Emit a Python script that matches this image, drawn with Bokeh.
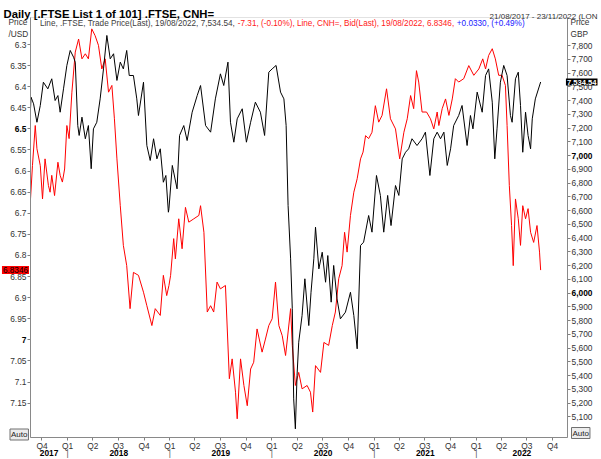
import calendar
from datetime import datetime, timedelta

from bokeh.plotting import figure
from bokeh.models import (Range1d, LinearAxis, DatetimeAxis, FixedTicker,
                          CustomJSTickFormatter, Label, ColumnDataSource, BoxAnnotation)
from bokeh.embed import file_html
from bokeh.resources import INLINE

# ---------------- data ----------------
start_date = datetime(2017, 8, 21)
end_date = datetime(2022, 11, 23)

# FTSE 100 (right axis, GBP): days after start_date and close values
ftse_day = [0, 2, 11, 23, 35, 46, 62, 76, 88, 98,
            106, 118, 130, 142, 154, 160, 169, 174, 184, 196,
            207, 217, 225, 237, 249, 261, 273, 285, 297, 309,
            321, 332, 344, 353, 368, 380, 386, 404, 416, 428,
            440, 452, 464, 475, 484, 493, 495, 507, 524, 533,
            548, 560, 578, 596, 608, 626, 644, 661, 679, 691,
            706, 715, 727, 739, 757, 772, 787, 804, 822, 837,
            852, 864, 878, 894, 906, 914, 921, 930, 936, 941,
            947, 953, 959, 971, 981, 995, 1003, 1013, 1019, 1031,
            1043, 1055, 1063, 1075, 1084, 1096, 1108, 1126, 1144, 1156,
            1168, 1180, 1191, 1209, 1221, 1237, 1251, 1263, 1277, 1289,
            1305, 1317, 1329, 1341, 1352, 1364, 1382, 1400, 1412, 1428,
            1442, 1454, 1466, 1478, 1490, 1502, 1513, 1531, 1543, 1561,
            1573, 1582, 1597, 1615, 1627, 1638, 1651, 1660, 1668, 1680,
            1692, 1704, 1716, 1722, 1734, 1744, 1752, 1760, 1770, 1779,
            1788, 1794, 1805, 1824]
ftse_val = [7340, 7424, 7376, 7242, 7364, 7533, 7485, 7558, 7400, 7436,
            7315, 7485, 7655, 7764, 7715, 7679, 7218, 7146, 7279, 7122,
            7218, 6904, 7194, 7242, 7412, 7630, 7873, 7703, 7740, 7546,
            7679, 7630, 7764, 7582, 7582, 7412, 7291, 7533, 7073, 6964,
            7122, 6976, 7049, 6806, 6855, 6588, 6613, 6928, 6758, 7146,
            7218, 7109, 7315, 7436, 7509, 7218, 7170, 7412, 7594, 7509,
            7679, 7242, 7097, 7267, 7340, 7097, 7242, 7388, 7315, 7146,
            7606, 7630, 7655, 7461, 7412, 7218, 6637, 6249, 5886, 5231,
            5013, 5401, 5643, 5837, 6104, 5764, 6006, 6249, 6479, 6176,
            6297, 6079, 6273, 5934, 6201, 5958, 5813, 5861, 6006, 5837,
            5595, 6346, 6370, 6564, 6443, 6855, 6710, 6443, 6710, 6491,
            6782, 6710, 6976, 7024, 7049, 7122, 7073, 7122, 7170, 6855,
            7122, 7170, 7122, 7170, 6928, 7049, 7218, 7291, 7364, 7073,
            7291, 7194, 7461, 7315, 7582, 7630, 7388, 6976, 7194, 7533,
            7655, 7582, 7291, 7242, 7558, 7606, 7364, 7024, 7315, 7146,
            7049, 7267, 7412, 7534.54]

# USD/CNH (left axis, inverted): days after start_date and bid values
cnh_day = [0, 7, 17, 23, 35, 43, 52, 64, 70, 76,
           86, 98, 106, 114, 122, 130, 138, 148, 160, 172,
           184, 196, 207, 219, 231, 243, 255, 267, 279, 291,
           300, 309, 321, 332, 344, 356, 368, 386, 404, 416,
           434, 446, 464, 475, 487, 495, 501, 512, 518, 530,
           542, 554, 566, 584, 602, 608, 620, 632, 644, 655,
           667, 679, 697, 711, 721, 733, 739, 751, 763, 775,
           787, 798, 810, 828, 840, 852, 864, 876, 888, 900,
           912, 930, 936, 947, 959, 971, 989, 1001, 1009, 1019,
           1037, 1049, 1066, 1079, 1090, 1102, 1114, 1123, 1132, 1144,
           1156, 1168, 1180, 1189, 1198, 1209, 1221, 1233, 1245, 1257,
           1273, 1287, 1305, 1320, 1335, 1347, 1359, 1370, 1380, 1388,
           1400, 1416, 1430, 1442, 1454, 1460, 1472, 1484, 1496, 1508,
           1519, 1531, 1549, 1567, 1585, 1603, 1617, 1627, 1638, 1651,
           1662, 1674, 1686, 1698, 1704, 1712, 1720, 1726, 1734, 1744,
           1752, 1760, 1770, 1779, 1788, 1799, 1811, 1820, 1824]
cnh_val = [6.666, 6.587, 6.492, 6.547, 6.587, 6.666, 6.571, 6.634, 6.650, 6.610,
           6.658, 6.579, 6.610, 6.626, 6.595, 6.492, 6.523, 6.413, 6.318, 6.287,
           6.334, 6.322, 6.334, 6.263, 6.279, 6.302, 6.358, 6.334, 6.413, 6.397,
           6.476, 6.571, 6.682, 6.776, 6.824, 6.926, 6.840, 6.847, 6.887, 6.919,
           6.966, 6.926, 6.942, 6.847, 6.895, 6.871, 6.847, 6.760, 6.808, 6.713,
           6.784, 6.686, 6.721, 6.713, 6.705, 6.682, 6.745, 6.934, 6.919, 6.934,
           6.863, 6.879, 6.871, 7.092, 7.045, 7.124, 7.187, 7.045, 7.108, 7.156,
           7.069, 7.053, 6.974, 7.029, 6.998, 6.966, 6.950, 6.863, 6.966, 6.990,
           7.037, 6.926, 7.013, 7.108, 7.077, 7.116, 7.108, 7.124, 7.171, 7.061,
           7.077, 7.006, 7.013, 6.966, 6.934, 6.855, 6.824, 6.745, 6.792, 6.705,
           6.650, 6.618, 6.571, 6.555, 6.516, 6.523, 6.508, 6.445, 6.484, 6.468,
           6.405, 6.476, 6.500, 6.571, 6.508, 6.476, 6.421, 6.452, 6.362, 6.389,
           6.460, 6.460, 6.476, 6.500, 6.460, 6.492, 6.452, 6.429, 6.468, 6.429,
           6.381, 6.389, 6.381, 6.350, 6.373, 6.358, 6.334, 6.358, 6.326, 6.310,
           6.334, 6.373, 6.373, 6.397, 6.492, 6.634, 6.729, 6.824, 6.666, 6.713,
           6.776, 6.682, 6.713, 6.689, 6.745, 6.769, 6.729, 6.792, 6.8346]

cnh_ticks = [6.3, 6.35, 6.4, 6.45, 6.5, 6.55, 6.6, 6.65, 6.7, 6.75,
             6.8, 6.85, 6.9, 6.95, 7.0, 7.05, 7.1, 7.15]
cnh_bold = [6.5, 7.0]
ftse_ticks = list(range(5100, 7900, 100))
ftse_bold = [6000, 7000]
year_labels = ["2017", "2018", "2019", "2020", "2021", "2022"]

title_text = "Daily [.FTSE List 1 of 101] .FTSE, CNH="
range_text = "21/08/2017 - 23/11/2022 (LON"
legend_black = "Line, .FTSE, Trade Price(Last), 19/08/2022, 7,534.54, "
legend_red = "-7.31, (-0.10%), Line, CNH=, Bid(Last), 19/08/2022, 6.8346, "
legend_blue = "+0.0330, (+0.49%)"
ftse_last_text = "7,534.54"
cnh_last_text = "6.8346"

# ---------------- page geometry (pixels) ----------------
W, H = 600, 458
FL, FR, FT, FB = 30, 567, 17, 437       # plot area edges
CNH_REF_PY, CNH_REF_V, CNH_PER_PX = 44.0, 6.3, 0.0023697
FTSE_REF_PY, FTSE_REF_V, FTSE_PER_PX = 45.0, 7800.0, 7.27

FONT = "Liberation Sans"
TXT = "#333333"
AX = "#808080"


def ms(d):
    return calendar.timegm(d.timetuple()) * 1000.0


X0, X1 = ms(start_date), ms(end_date)


def px_x(px):
    return X0 + (px - FL) / (FR - FL) * (X1 - X0)


def py_cnh(py):
    return CNH_REF_V + (py - CNH_REF_PY) * CNH_PER_PX


def py_ftse(py):
    return FTSE_REF_V - (py - FTSE_REF_PY) * FTSE_PER_PX


p = figure(width=W, height=H, output_backend="svg", toolbar_location=None,
           x_range=Range1d(px_x(0), px_x(W)),
           y_range=Range1d(py_cnh(H), py_cnh(0)),
           x_axis_type=None, y_axis_type=None,
           min_border=0, title=None)
p.extra_y_ranges = {"ftse": Range1d(py_ftse(H), py_ftse(0))}
p.xgrid.visible = False
p.ygrid.visible = False
p.outline_line_color = None
p.background_fill_color = "white"
p.border_fill_color = "white"


def style_axis(ax):
    ax.axis_line_color = AX
    ax.major_tick_line_color = AX
    ax.major_tick_out = 3
    ax.major_tick_in = 0
    ax.minor_tick_out = 0
    ax.minor_tick_in = 0
    ax.major_label_text_font = FONT
    ax.major_label_text_font_size = "8.4px"
    ax.major_label_text_color = TXT
    ax.major_label_standoff = 1


# plot-area border
p.add_layout(BoxAnnotation(left=X0, right=X1, top=py_cnh(FT), bottom=py_cnh(FB),
                           fill_alpha=0, line_color="#a0a0a0", line_width=1))

left_ax = LinearAxis(
    fixed_location=px_x(FL),
    bounds=(py_cnh(FT), py_cnh(FB)),
    ticker=FixedTicker(ticks=cnh_ticks),
    formatter=CustomJSTickFormatter(args=dict(bold=cnh_bold), code="""
        for (const b of bold) { if (Math.abs(tick - b) < 1e-9) return ""; }
        return String(Math.round(tick * 100) / 100);
    """))
style_axis(left_ax)
p.add_layout(left_ax, "left")

right_ax = LinearAxis(
    y_range_name="ftse",
    fixed_location=px_x(FR),
    bounds=(py_ftse(FB), py_ftse(FT)),
    ticker=FixedTicker(ticks=ftse_ticks),
    formatter=CustomJSTickFormatter(args=dict(bold=ftse_bold), code="""
        for (const b of bold) { if (Math.abs(tick - b) < 1e-6) return ""; }
        const s = Math.round(tick).toString();
        return s.slice(0, s.length - 3) + "," + s.slice(-3);
    """))
style_axis(right_ax)
p.add_layout(right_ax, "right")

quarter_ticks = [ms(datetime(y, m, 1)) for y in range(2017, 2023) for m in (1, 4, 7, 10)
                 if start_date <= datetime(y, m, 1) <= end_date]
bottom_ax = DatetimeAxis(
    fixed_location=py_cnh(FB),
    bounds=(X0, X1),
    ticker=FixedTicker(ticks=quarter_ticks),
    formatter=CustomJSTickFormatter(code="""
        const d = new Date(tick);
        return "Q" + (Math.floor(d.getUTCMonth() / 3) + 1);
    """))
style_axis(bottom_ax)
bottom_ax.major_label_standoff = 0
p.add_layout(bottom_ax, "below")

# ---------------- series ----------------
cnh_src = ColumnDataSource(dict(x=[start_date + timedelta(days=d) for d in cnh_day], y=cnh_val))
ftse_src = ColumnDataSource(dict(x=[start_date + timedelta(days=d) for d in ftse_day], y=ftse_val))
p.line("x", "y", source=cnh_src, line_color="#ff0000", line_width=1)
p.line("x", "y", source=ftse_src, line_color="#000000", line_width=1, y_range_name="ftse")


# ---------------- texts ----------------
def lab(text, px, y, size="8.4px", color=TXT, align="left", baseline="middle",
        bold=False, y_range_name="default", **kw):
    p.add_layout(Label(x=px_x(px), y=y, text=text, text_font=FONT, text_font_size=size,
                       text_color=color, text_align=align, text_baseline=baseline,
                       text_font_style="bold" if bold else "normal",
                       y_range_name=y_range_name, **kw))


# title and date range
lab(title_text, 3, py_cnh(13.5), size="11.3px", color="#000000", baseline="alphabetic", bold=True)
lab(range_text, 597, py_cnh(15.5), size="8px", align="right", baseline="alphabetic")

# legend line
fs = 8.2
lx = 39.5
lab(legend_black, lx, py_cnh(22.5), size=f"{fs}px", color="#404040")
lx2 = lx + 24.12 * fs
lab(legend_red, lx2, py_cnh(22.5), size=f"{fs}px", color="#ff2020")
lx3 = lx2 + 26.71 * fs
lab(legend_blue, lx3, py_cnh(22.5), size=f"{fs}px", color="#2020ff")

# axis captions
lab("Price", 8, py_cnh(21.5), size="8.3px")
lab("/USD", 8, py_cnh(33.5), size="8.3px")
lab("Price", 570, py_cnh(21.5), size="8.3px")
lab("GBP", 570, py_cnh(33.5), size="8.3px")

# bold tick labels
for v in cnh_bold:
    lab(f"{v:g}", FL - 4, v, color="#000000", align="right", bold=True)
for v in ftse_bold:
    lab(f"{v:,}", FR + 4, v, color="#000000", bold=True, y_range_name="ftse")

# last value markers
lab(cnh_last_text, 28.5, cnh_val[-1], size="8.2px", color="#000000", align="right",
    background_fill_color="#ff0000", padding=1)
lab(ftse_last_text, 597, ftse_val[-1], size="7.6px", color="#ffffff", bold=True, align="right",
    background_fill_color="#000000", padding=1, y_range_name="ftse")

# Auto buttons
lab("Auto", 9.5, py_cnh(434), size="8px", color="#222222",
    background_fill_color="#ececec", border_line_color="#707070", padding=1)
lab("Auto", 571, py_cnh(432.5), size="8px", color="#222222",
    background_fill_color="#ececec", border_line_color="#707070", padding=1)

# year labels and separators
for i, yl in enumerate(year_labels):
    y = int(yl)
    a = max(datetime(y, 1, 1), start_date)
    b = min(datetime(y + 1, 1, 1), end_date)
    cx = (ms(a) + ms(b)) / 2
    p.add_layout(Label(x=cx, y=py_cnh(452), text=yl, text_font=FONT, text_font_size="8.4px",
                       text_font_style="bold", text_color="#000000", text_align="center",
                       text_baseline="middle"))
    if i > 0:
        p.add_layout(Label(x=ms(datetime(y, 1, 1)), y=py_cnh(452.5), text="|", text_font=FONT,
                           text_font_size="8.4px", text_color="#555555", text_align="center",
                           text_baseline="middle"))

open("out.html", "w").write(file_html(p, INLINE))
